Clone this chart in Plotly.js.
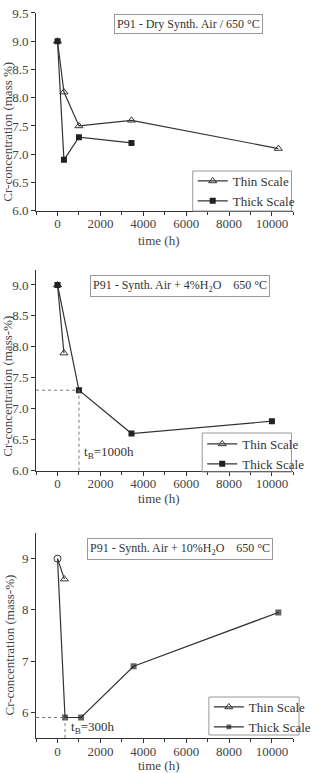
<!DOCTYPE html>
<html>
<head>
<meta charset="utf-8">
<script src="https://cdn.plot.ly/plotly-3.0.1.min.js"></script>
<style>html,body{margin:0;padding:0;background:#fff;overflow:hidden;width:316px;height:773px;}#chart{width:316px;height:773px;overflow:hidden;}</style>
</head>
<body>
<div id="chart"></div>
<script>
// Panel 1: Dry synthetic air
const tThin1 = [0, 300, 1000, 3450, 10300];
const cThin1 = [9.0, 8.1, 7.5, 7.6, 7.1];
const tThick1 = [0, 300, 1000, 3450];
const cThick1 = [9.0, 6.9, 7.3, 7.2];
// Panel 2: Synth. air + 4% H2O
const tThin2 = [0, 300];
const cThin2 = [9.0, 7.9];
const tThick2 = [0, 1000, 3450, 10000];
const cThick2 = [9.0, 7.3, 6.6, 6.8];
const tB2 = 1000, cB2 = 7.3;
// Panel 3: Synth. air + 10% H2O (thin listed from last to first so its legend shows the triangle)
const tThin3 = [320, 0];
const cThin3 = [8.6, 9.0];
const tThick3 = [0, 350, 1100, 3550, 10300];
const cThick3 = [9.0, 5.9, 5.9, 6.9, 7.95];
const tB3 = 350, cB3 = 5.9;

const panelTitles = [
  'P91 - Dry Synth. Air / 650 °C',
  'P91 - Synth. Air + 4%H<sub>2</sub>O\u00a0\u00a0\u00a0\u00a0650 °C',
  'P91 - Synth. Air + 10%H<sub>2</sub>O\u00a0\u00a0\u00a0\u00a0650 °C'
];
const yTitles = ['Cr-concentration (mass %)', 'Cr-concentration (mass-%)', 'Cr-concentration (mass-%)'];
const xTitle = 'time (h)';
const tbLabels = ['t<sub>B</sub>=1000h', 't<sub>B</sub>=300h'];

const W = 316, H = 773;
const px = v => v / W;
const py = v => 1 - v / H;
const FONT = 'Liberation Serif, Times New Roman, serif';
const INK = '#333';

function thin(x, y, ax, leg, sym) {
  return {x: x, y: y, xaxis: ax[0], yaxis: ax[1], legend: leg, name: 'Thin Scale', mode: 'lines+markers',
    line: {color: INK, width: 1.2},
    marker: {symbol: sym || 'triangle-up-open', size: 7, color: INK, line: {width: 1}}};
}
function thick(x, y, ax, leg, sizes) {
  return {x: x, y: y, xaxis: ax[0], yaxis: ax[1], legend: leg, name: 'Thick Scale', mode: 'lines+markers',
    line: {color: INK, width: 1.2},
    marker: {symbol: 'square', size: sizes || 6, color: '#222', line: {color: '#222', width: 0}}};
}

const data = [
  thin(tThin1, cThin1, ['x', 'y'], 'legend'),
  thick(tThick1, cThick1, ['x', 'y'], 'legend'),
  thin(tThin2, cThin2, ['x2', 'y2'], 'legend2'),
  thick(tThick2, cThick2, ['x2', 'y2'], 'legend2'),
  thin(tThin3, cThin3, ['x3', 'y3'], 'legend3', ['triangle-up-open', 'circle-open']),
  thick(tThick3, cThick3, ['x3', 'y3'], 'legend3', [0, 6, 6, 6, 6])
];

const tickFont = {family: FONT, size: 13, color: '#444'};
function xax(anchor) {
  return {domain: [px(38), px(309)], anchor: anchor, range: [-1000, 11000], dtick: 2000, tick0: 0,
    tickformat: 'd', showgrid: false, zeroline: false, showline: true, linecolor: INK, linewidth: 1,
    ticks: 'outside', ticklen: 4, tickcolor: INK, tickfont: tickFont, ticklabelstandoff: -3,
    minor: {dtick: 1000, tick0: 0, ticks: 'outside', ticklen: 3, tickcolor: INK}};
}
function yax(anchor, dom, range, dtick, fmt) {
  return {domain: dom, anchor: anchor, range: range, dtick: dtick, tick0: 0, tickformat: fmt,
    showgrid: false, zeroline: false, showline: true, linecolor: INK, linewidth: 1,
    ticks: 'outside', ticklen: 4, tickcolor: INK, tickfont: tickFont};
}

const legendBase = {bgcolor: 'rgba(255,255,255,0)', borderwidth: 0,
  font: {family: FONT, size: 13, color: '#333'}, itemwidth: 30, xanchor: 'left', yanchor: 'top'};

const annots = [];
const titleCenters = [[198.5, 24.5], [189.5, 285.5], [190, 549]];
panelTitles.forEach((t, i) => {
  annots.push({text: t, xref: 'paper', yref: 'paper', x: px(titleCenters[i][0]), y: py(titleCenters[i][1]),
    xanchor: 'center', yanchor: 'middle',
    showarrow: false, font: {family: FONT, size: 12, color: '#333'}, bordercolor: '#999', borderwidth: 1,
    borderpad: 2, bgcolor: '#fff'});
});
const yTitlePos = [[7, 132], [7, 386], [9, 645]];
yTitles.forEach((t, i) => {
  annots.push({text: t, xref: 'paper', yref: 'paper', x: px(yTitlePos[i][0]), y: py(yTitlePos[i][1]),
    xanchor: 'center', yanchor: 'middle',
    textangle: -90, showarrow: false, font: {family: FONT, size: 13, color: '#444'}});
});
[241, 498, 765].forEach(yy => {
  annots.push({text: xTitle, xref: 'paper', yref: 'paper', x: px(168), y: py(yy), showarrow: false,
    xanchor: 'center', yanchor: 'middle',
    font: {family: FONT, size: 13, color: '#444'}});
});
annots.push({text: tbLabels[0], xref: 'x2', yref: 'y2', x: tB2 + 150, y: 6.3, xanchor: 'left', yanchor: 'middle',
  showarrow: false, font: {family: FONT, size: 13, color: '#333'}});
annots.push({text: tbLabels[1], xref: 'x3', yref: 'y3', x: tB3 + 200, y: 5.7, xanchor: 'left', yanchor: 'middle',
  showarrow: false, font: {family: FONT, size: 13, color: '#333'}});

const dot = {color: '#777', width: 1, dash: 'dot'};
const box = (x0, y0, x1, y1) => ({type: 'rect', xref: 'paper', yref: 'paper',
  x0: px(x0), x1: px(x1), y0: py(y1), y1: py(y0), line: {color: '#999', width: 1}, fillcolor: 'rgba(0,0,0,0)'});
const shapes = [
  {type: 'line', xref: 'x2', yref: 'y2', x0: -1000, x1: tB2, y0: cB2, y1: cB2, line: dot},
  {type: 'line', xref: 'x2', yref: 'y2', x0: tB2, x1: tB2, y0: 6.0, y1: cB2, line: dot},
  {type: 'line', xref: 'x3', yref: 'y3', x0: -1000, x1: tB3, y0: cB3, y1: cB3, line: dot},
  {type: 'line', xref: 'x3', yref: 'y3', x0: tB3, x1: tB3, y0: 5.5, y1: cB3, line: dot},
  box(203, 171, 307, 211),
  box(213, 433, 307, 472),
  box(220, 697, 315, 735)
];

const layout = {
  width: W, height: H, autosize: false, margin: {l: 0, r: 0, t: 0, b: 0, pad: 0},
  paper_bgcolor: '#fff', plot_bgcolor: '#fff',
  font: {family: FONT, color: '#333'},
  xaxis: xax('y'), yaxis: yax('x', [py(210.7), py(12.7)], [6.0, 9.505], 0.5, '.1f'),
  xaxis2: xax('y2'), yaxis2: yax('x2', [py(470.7), py(269.5)], [6.0, 9.25], 0.5, '.1f'),
  xaxis3: xax('y3'), yaxis3: yax('x3', [py(738), py(533)], [5.5, 9.5], 1, 'd'),
  legend: Object.assign({}, legendBase, {x: px(203), y: py(166)}),
  legend2: Object.assign({}, legendBase, {x: px(213), y: py(429)}),
  legend3: Object.assign({}, legendBase, {x: px(220), y: py(692)}),
  annotations: annots, shapes: shapes, showlegend: true
};

Plotly.newPlot('chart', data, layout, {displayModeBar: false, staticPlot: true, responsive: false});
</script>
</body>
</html>
